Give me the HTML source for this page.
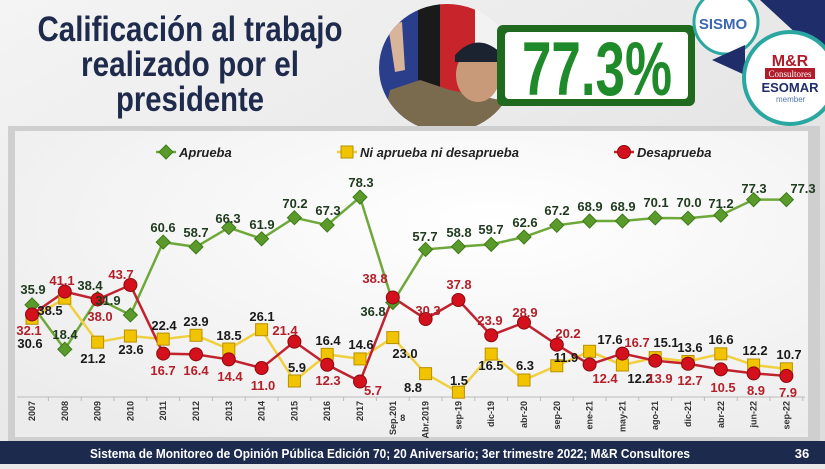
<!DOCTYPE html>
<html><head><meta charset="utf-8">
<style>
html,body{margin:0;padding:0;}
body{width:825px;height:464px;overflow:hidden;background:#e9e9e9;font-family:"Liberation Sans",sans-serif;}
</style></head>
<body>
<svg id="s" width="825" height="464" viewBox="0 0 825 464" xmlns="http://www.w3.org/2000/svg">
<defs>
<linearGradient id="bg" x1="0" y1="0" x2="1" y2="1"><stop offset="0" stop-color="#f4f4f4"/><stop offset="1" stop-color="#dcdcdc"/></linearGradient>
<radialGradient id="pan" cx="0.6" cy="0.3" r="0.8"><stop offset="0" stop-color="#ffffff"/><stop offset="1" stop-color="#ececec"/></radialGradient>
<clipPath id="ph"><ellipse cx="447" cy="68" rx="68" ry="64"/></clipPath>
</defs>
<rect width="825" height="464" fill="url(#bg)"/>
<!-- title -->
<g fill="#1f2b4c" font-weight="bold" font-size="35" text-anchor="middle">
<text x="190" y="41" textLength="305" lengthAdjust="spacingAndGlyphs">Calificación al trabajo</text>
<text x="190" y="76" textLength="218" lengthAdjust="spacingAndGlyphs">realizado por el</text>
<text x="190" y="111" textLength="148" lengthAdjust="spacingAndGlyphs">presidente</text>
</g>
<!-- photo -->
<g clip-path="url(#ph)">
<rect x="378" y="0" width="140" height="135" fill="#f2f2f2"/>
<rect x="378" y="0" width="40" height="135" fill="#2a3e8c"/>
<rect x="418" y="0" width="22" height="135" fill="#1a1a1a"/>
<rect x="440" y="0" width="35" height="135" fill="#c8242b"/>
<path d="M380 135 L390 90 L420 80 L450 90 L500 100 L515 135 Z" fill="#7a6a4e"/>
<ellipse cx="478" cy="75" rx="22" ry="27" fill="#c89a7a"/>
<path d="M455 55 Q478 30 503 55 L503 62 L455 62 Z" fill="#1b2330"/>
<path d="M388 25 L402 22 L405 70 L395 72 Z" fill="#d8b49a"/>
</g>
<!-- 77.3% -->
<rect x="497" y="25" width="198" height="81" rx="6" fill="#1f6a1f"/>
<rect x="505" y="32" width="183" height="67" rx="4" fill="#ffffff"/>
<text x="597" y="95" text-anchor="middle" fill="#1f8a2a" font-weight="bold" font-size="76" textLength="150" lengthAdjust="spacingAndGlyphs">77.3%</text>
<!-- logos -->
<path d="M760 0 L825 0 L825 60 Z" fill="#1f2d6a"/>
<circle cx="726" cy="22" r="32" fill="#fff" stroke="#2aa7a0" stroke-width="3"/>
<text x="723" y="29" text-anchor="middle" font-weight="bold" font-size="15" fill="#3a66b5">SISMO</text>
<polygon points="712,60 745,45 745,75" fill="#1f2d6a"/>
<circle cx="790" cy="78" r="46" fill="#fff" stroke="#2aa7a0" stroke-width="4"/>
<text x="790" y="66" text-anchor="middle" font-weight="bold" font-size="16" fill="#b01c2a">M&amp;R</text>
<rect x="765" y="68" width="50" height="11" fill="#b01c2a"/>
<text x="790" y="77" text-anchor="middle" font-size="9" fill="#fff" font-family="Liberation Serif,serif">Consultores</text>
<text x="790" y="92" text-anchor="middle" font-weight="bold" font-size="13" fill="#1f2d6a">ESOMAR</text>
<text x="776" y="102" font-size="8" fill="#5577aa">member</text>
<!-- chart panel -->
<rect x="8" y="126" width="812" height="315" fill="#cfcfcf"/>
<rect x="15" y="131" width="793" height="306" fill="url(#pan)"/>
<!-- footer -->
<rect x="0" y="441" width="825" height="23" fill="#1c2a4e"/>
<text x="390" y="458" text-anchor="middle" fill="#fff" font-weight="bold" font-size="13" textLength="600" lengthAdjust="spacingAndGlyphs">Sistema de Monitoreo de Opinión Pública Edición 70; 20 Aniversario; 3er trimestre 2022; M&amp;R Consultores</text>
<text x="802" y="458" text-anchor="middle" fill="#fff" font-weight="bold" font-size="13">36</text>
<g id="chart"></g>
</svg>
<script>
var NS="http://www.w3.org/2000/svg",g=document.getElementById('chart');
function el(t,a,txt){var e=document.createElementNS(NS,t);for(var k in a)e.setAttribute(k,a[k]);if(txt!=null)e.textContent=txt;g.appendChild(e);return e;}
var X=function(i){return 32+i*32.8},Y=function(v){return 396-2.54*v};
var cats=["2007","2008","2009","2010","2011","2012","2013","2014","2015","2016","2017","Sep.201|8","Abr.2019","sep-19","dic-19","abr-20","sep-20","ene-21","may-21","ago-21","dic-21","abr-22","jun-22","sep-22"];
var A=[35.9,18.4,38.4,31.9,60.6,58.7,66.3,61.9,70.2,67.3,78.3,36.8,57.7,58.8,59.7,62.6,67.2,68.9,68.9,70.1,70.0,71.2,77.3,77.3];
var N=[30.6,38.5,21.2,23.6,22.4,23.9,18.5,26.1,5.9,16.4,14.6,23.0,8.8,1.5,16.5,6.3,11.9,17.6,12.2,15.1,13.6,16.6,12.2,10.7];
var D=[32.1,41.1,38.0,43.7,16.7,16.4,14.4,11.0,21.4,12.3,5.7,38.8,30.3,37.8,23.9,28.9,20.2,12.4,16.7,13.9,12.7,10.5,8.9,7.9];
var LA=[[33,289],[65,334],[90,285],[108,300],[163,227],[196,232],[228,218],[262,224],[295,203],[328,210],[361,182],[373,311],[425,236],[459,232],[491,229],[525,222],[557,210],[590,206],[623,206],[656,202],[689,202],[721,203],[754,188],[803,188]];
var LN=[[30,343],[50,310],[93,358],[131,349],[164,325],[196,321],[229,335],[262,316],[297,367],[328,340],[361,344],[405,353],[413,387],[459,380],[491,365],[525,365],[566,357],[610,339],[640,378],[666,342],[690,347],[721,339],[755,350],[789,354]];
var LD=[[29,330],[62,280],[100,316],[121,274],[163,370],[196,370],[230,376],[263,385],[285,330],[328,380],[373,390],[375,278],[428,310],[459,284],[490,320],[525,312],[568,333],[605,378],[637,342],[660,378],[690,380],[723,387],[756,390],[788,392]];
// axis
el('line',{x1:17,y1:397,x2:805,y2:397,stroke:'#bbb','stroke-width':1});
cats.forEach(function(c,i){var x=X(i);el('line',{x1:x+16.4,y1:397,x2:x+16.4,y2:401,stroke:'#bbb'});
 var p=c.split('|');var t=el('text',{x:0,y:0,transform:'translate('+(x+3)+',401) rotate(-90)','text-anchor':'end','font-size':'9','font-weight':'bold',fill:'#333'},p[0]);
 if(p[1])el('text',{x:0,y:0,transform:'translate('+(x+12)+',401) rotate(-90)','text-anchor':'end','font-size':'9','font-weight':'bold',fill:'#333'},'');
 if(p[1])el('text',{x:x+10,y:421,'text-anchor':'middle','font-size':'9','font-weight':'bold',fill:'#333'},p[1]);});
function line(d,c){el('polyline',{points:d.map(function(v,i){return X(i)+','+Y(v)}).join(' '),fill:'none',stroke:c,'stroke-width':2.5});}
line(A,'#6ea83a');line(N,'#f0d040');line(D,'#c0222e');
function dia(x,y){el('polygon',{points:(x)+','+(y-7)+' '+(x+7)+','+y+' '+x+','+(y+7)+' '+(x-7)+','+y,fill:'#5a9a2a',stroke:'#3f7a1a','stroke-width':1});}
function sq(x,y){el('rect',{x:x-6,y:y-6,width:12,height:12,fill:'#f2c400',stroke:'#b89000','stroke-width':1});}
function ci(x,y){el('circle',{cx:x,cy:y,r:6.5,fill:'#d4101c',stroke:'#8a0a10','stroke-width':1});}
N.forEach(function(v,i){sq(X(i),Y(v))});A.forEach(function(v,i){dia(X(i),Y(v))});D.forEach(function(v,i){ci(X(i),Y(v))});
function lab(L,d,c){L.forEach(function(p,i){el('text',{x:p[0],y:p[1]+5,'text-anchor':'middle','font-size':'13','font-weight':'bold',fill:c},d[i].toFixed(1));});}
lab(LA,A,'#1f3a1f');lab(LN,N,'#1a1a1a');lab(LD,D,'#b3202a');
// legend
el('line',{x1:156,y1:152,x2:176,y2:152,stroke:'#6ea83a','stroke-width':2.5});dia(166,152);
el('text',{x:179,y:157,'font-size':'13','font-weight':'bold','font-style':'italic',fill:'#222'},'Aprueba');
el('line',{x1:337,y1:152,x2:357,y2:152,stroke:'#f0d040','stroke-width':2.5});sq(347,152);
el('text',{x:360,y:157,'font-size':'13','font-weight':'bold','font-style':'italic',fill:'#222'},'Ni aprueba ni desaprueba');
el('line',{x1:614,y1:152,x2:634,y2:152,stroke:'#c0222e','stroke-width':2.5});ci(624,152);
el('text',{x:637,y:157,'font-size':'13','font-weight':'bold','font-style':'italic',fill:'#222'},'Desaprueba');
</script>
</body></html>
